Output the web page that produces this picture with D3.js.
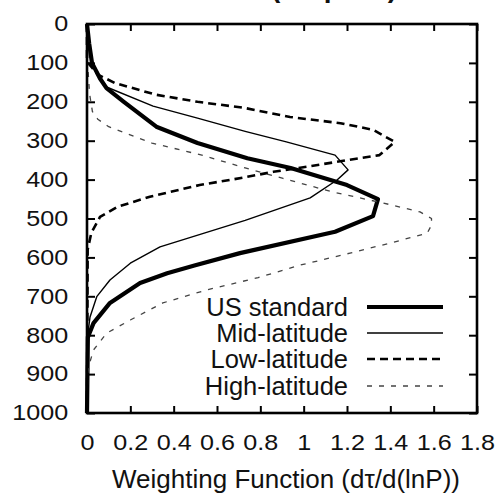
<!DOCTYPE html>
<html>
<head>
<meta charset="utf-8">
<script src="https://cdn.jsdelivr.net/npm/d3@7/dist/d3.min.js"></script>
<style>
  html, body { margin: 0; padding: 0; background: #fff; }
  svg { display: block; }
  text { font-family: "Liberation Sans", Arial, Helvetica, sans-serif; fill: #111; }
</style>
</head>
<body>
<svg id="chart" width="499" height="493"></svg>
<script>
// ---- data: [pressure (hPa), weighting function] ----
const usStandard = [[0,0],[50,0.01],[100,0.023],[140,0.06],[165,0.09],[200,0.17],[264,0.32],[306,0.51],[345,0.74],[370,0.94],[414,1.2],[450,1.343],[494,1.32],[534,1.145],[589,0.706],[620,0.5],[641,0.37],[666,0.245],[717,0.106],[769,0.03],[805,0.004],[1000,0]];
const midLatitude = [[0,0],[50,0.01],[100,0.023],[140,0.06],[162,0.09],[211,0.305],[242,0.51],[276,0.73],[303,0.92],[337,1.145],[375,1.205],[401,1.154],[447,1.03],[505,0.73],[573,0.337],[615,0.2],[658,0.106],[701,0.045],[753,0.014],[800,0.003],[1000,0]];
const lowLatitude = [[0,0],[95,0],[100,0.005],[130,0.05],[152,0.13],[182,0.32],[200,0.51],[215,0.72],[239,0.937],[255,1.17],[272,1.32],[303,1.42],[337,1.35],[350,1.2],[367,1.015],[380,0.86],[395,0.72],[414,0.52],[444,0.29],[470,0.14],[496,0.06],[537,0.02],[580,0.003],[1000,0]];
const highLatitude = [[0,0],[90,0],[120,0.005],[180,0.012],[225,0.025],[245,0.05],[264,0.1],[278,0.166],[306,0.3],[337,0.53],[370,0.73],[397,0.905],[432,1.135],[460,1.366],[483,1.537],[500,1.59],[517,1.59],[538,1.57],[563,1.4],[589,1.214],[620,0.983],[652,0.79],[684,0.55],[717,0.35],[761,0.2],[795,0.09],[838,0.03],[872,0.012],[900,0.003],[1000,0]];
const seriesNames = ["US standard", "Mid-latitude", "Low-latitude", "High-latitude"];
const xTicks = [0, 0.2, 0.4, 0.6, 0.8, 1, 1.2, 1.4, 1.6, 1.8];
const yTicks = [0, 100, 200, 300, 400, 500, 600, 700, 800, 900, 1000];
const xLabel = "Weighting Function (dτ/d(lnP))";
const titleText = "Channel 3 (Tropical)";

// ---- layout ----
const svg = d3.select("#chart");
const pL = 87, pR = 477, pT = 24, pB = 413;
const x = d3.scaleLinear().domain([0, 1.8]).range([pL, pR]);
const y = d3.scaleLinear().domain([0, 1000]).range([pT, pB]);
const tickFont = 21.5, stretch = 1.17;

const styles = [
  { width: 4.2, dash: null, color: "#000" },
  { width: 1.4, dash: null, color: "#000" },
  { width: 2.6, dash: "8,5", color: "#000" },
  { width: 1.3, dash: "5,7", color: "#444" }
];
const seriesData = [usStandard, midLatitude, lowLatitude, highLatitude];

// title (mostly clipped off the top, as in the original)
svg.append("text").attr("x", 397).attr("y", -3)
  .attr("text-anchor", "end").attr("font-weight", "bold").attr("font-size", 28)
  .text(titleText);

// axes (mirrored, inward ticks)
const fmt = d => String(d);
const axB = svg.append("g").attr("transform", `translate(0,${pB})`)
  .call(d3.axisBottom(x).tickValues(xTicks).tickSize(-7).tickPadding(21.5).tickFormat(fmt));
const axT = svg.append("g").attr("transform", `translate(0,${pT})`)
  .call(d3.axisTop(x).tickValues(xTicks).tickSize(-7).tickFormat(""));
const axL = svg.append("g").attr("transform", `translate(${pL},0)`)
  .call(d3.axisLeft(y).tickValues(yTicks).tickSize(-8).tickPadding(16).tickFormat(fmt));
const axR = svg.append("g").attr("transform", `translate(${pR},0)`)
  .call(d3.axisRight(y).tickValues(yTicks).tickSize(-8).tickFormat(""));
[axB, axT, axL, axR].forEach(a => {
  a.select(".domain").remove();
  a.selectAll(".tick line").attr("stroke", "#000").attr("stroke-width", 2);
  a.selectAll(".tick text").attr("font-size", tickFont).attr("fill", "#111")
    .attr("font-family", "'Liberation Sans', Arial, sans-serif")
    .attr("transform", `scale(${stretch},1)`);
});

// curves
const line = d3.line().x(d => x(d[1])).y(d => y(d[0]));
seriesData.forEach((data, i) => {
  const s = styles[i];
  svg.append("path").datum(data)
    .attr("d", line).attr("fill", "none")
    .attr("stroke", s.color).attr("stroke-width", s.width)
    .attr("stroke-linejoin", "round")
    .attr("stroke-dasharray", s.dash);
});

// frame
svg.append("rect").attr("x", pL).attr("y", pT)
  .attr("width", pR - pL).attr("height", pB - pT)
  .attr("fill", "none").attr("stroke", "#000").attr("stroke-width", 2.6);

// legend
const legY = [307, 333, 359, 386];
seriesNames.forEach((name, i) => {
  const s = styles[i];
  svg.append("text").attr("x", 348).attr("y", legY[i]).attr("dy", "0.35em")
    .attr("text-anchor", "end").attr("font-size", 25.5).text(name);
  svg.append("line").attr("x1", 367).attr("x2", 443)
    .attr("y1", legY[i]).attr("y2", legY[i])
    .attr("stroke", s.color).attr("stroke-width", s.width)
    .attr("stroke-dasharray", s.dash);
});

// x axis label
svg.append("text").attr("x", 286).attr("y", 488)
  .attr("text-anchor", "middle").attr("font-size", 26).text(xLabel);
</script>
</body>
</html>
